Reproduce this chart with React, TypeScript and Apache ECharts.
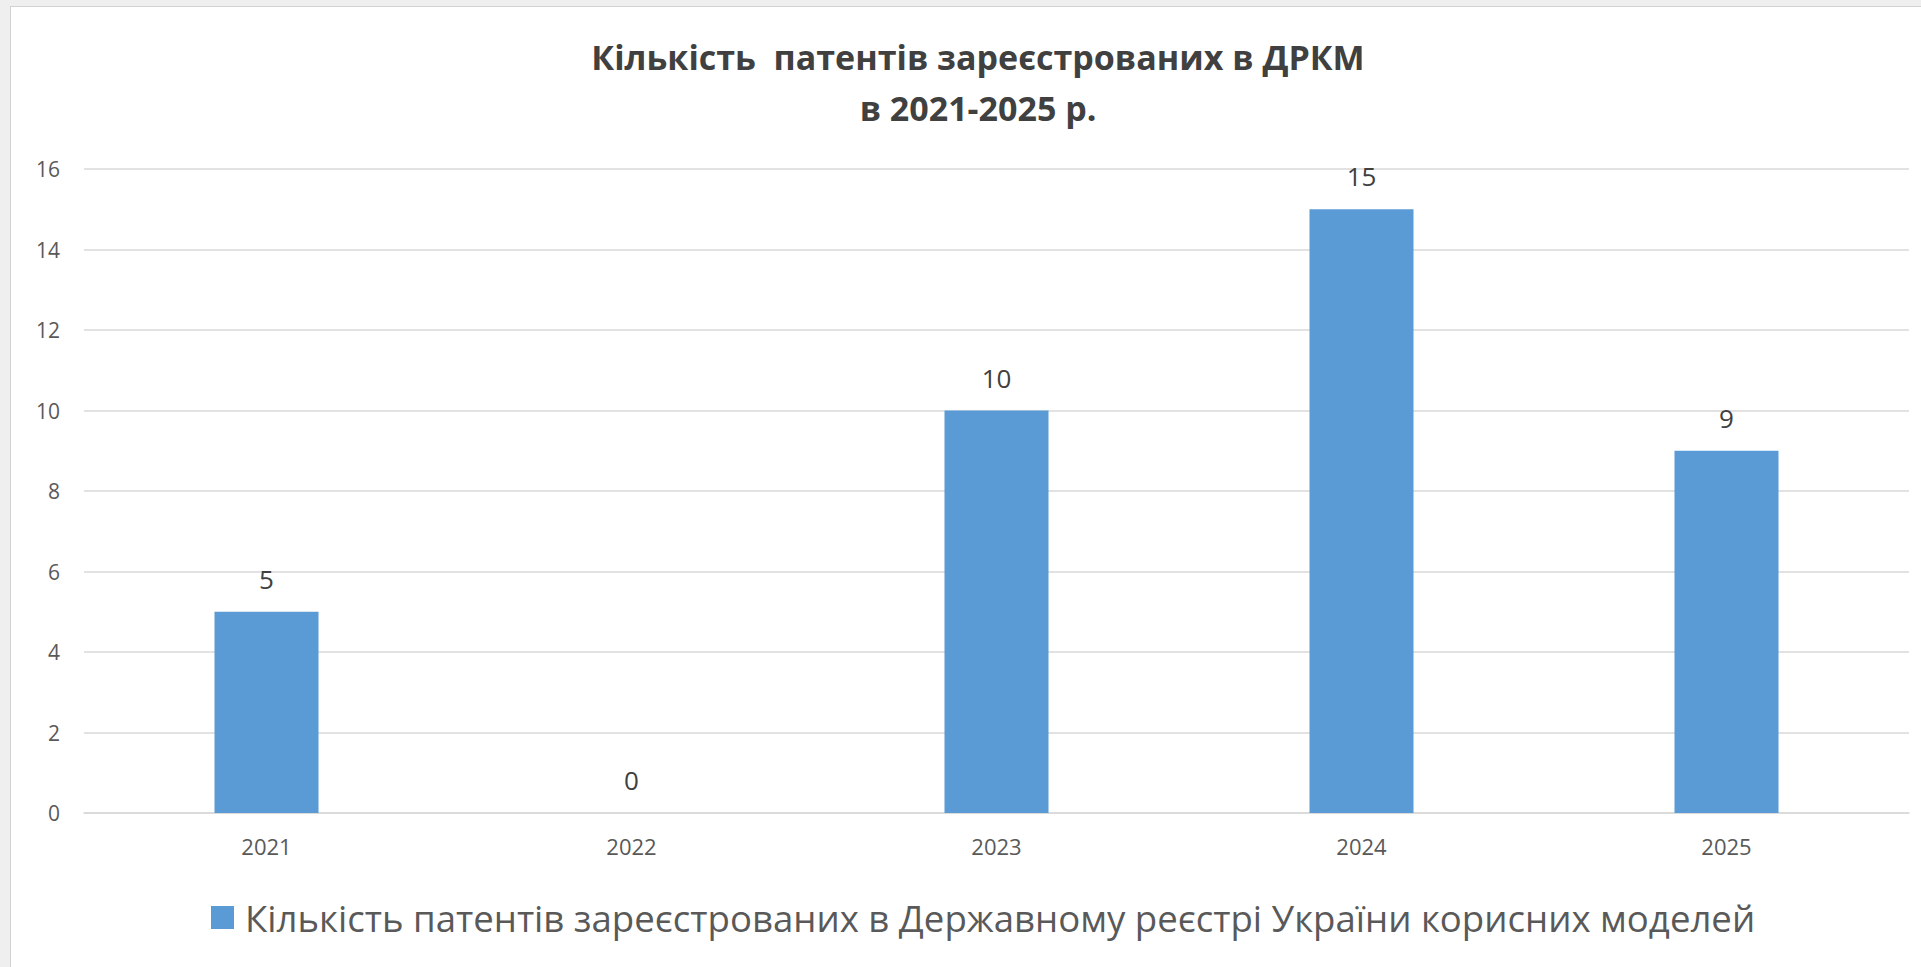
import React, { useEffect, useRef } from "react";
import * as echarts from "echarts";

// Utility-model patents registered per year
const years: string[] = ["2021", "2022", "2023", "2024", "2025"];
const patentCounts: number[] = [5, 0, 10, 15, 9];
const seriesName =
  "Кількість патентів зареєстрованих в Державному реєстрі України корисних моделей";
const titleText = "Кількість  патентів зареєстрованих в ДРКМ\nв 2021-2025 р.";

const BAR_COLOR = "#5B9BD5";
const TEXT_GRAY = "#595959";
const GRID_GRAY = "#D9D9D9";

export default function App() {
  const ref = useRef<HTMLDivElement | null>(null);

  useEffect(() => {
    if (!ref.current) return;
    const chart = echarts.init(ref.current, undefined, { renderer: "svg" });
    chart.setOption({
      animation: false,
      backgroundColor: "#ffffff",
      title: {
        text: titleText,
        left: "center",
        top: 19,
        textStyle: {
          fontFamily: "Open Sans",
          fontWeight: "bold",
          fontSize: 34,
          lineHeight: 51,
          color: "#404040",
        },
      },
      legend: {
        left: 195,
        top: 887,
        itemWidth: 23,
        itemHeight: 23,
        icon: "rect",
        data: [seriesName],
        textStyle: {
          fontFamily: "Open Sans",
          fontSize: 36.6,
          color: TEXT_GRAY,
          padding: [0, 0, 0, 6],
        },
      },
      grid: {
        left: 73,
        right: 36,
        top: 162,
        bottom: 154,
        containLabel: false,
      },
      xAxis: {
        type: "category",
        data: years,
        axisLine: { show: true, lineStyle: { color: GRID_GRAY, width: 1.5 } },
        axisTick: { show: false },
        axisLabel: {
          color: TEXT_GRAY,
          fontFamily: "Open Sans",
          fontSize: 22,
          margin: 22,
        },
      },
      yAxis: {
        type: "value",
        min: 0,
        max: 16,
        interval: 2,
        axisLine: { show: false },
        axisTick: { show: false },
        splitLine: { lineStyle: { color: GRID_GRAY, width: 1.5 } },
        axisLabel: {
          color: TEXT_GRAY,
          fontFamily: "Open Sans",
          fontSize: 21,
          margin: 24,
        },
      },
      series: [
        {
          name: seriesName,
          type: "bar",
          data: patentCounts,
          barWidth: 104,
          itemStyle: { color: BAR_COLOR },
          label: {
            show: true,
            position: "top",
            distance: 20,
            color: "#404040",
            fontFamily: "Open Sans",
            fontSize: 26,
          },
        },
      ],
    });
    return () => chart.dispose();
  }, []);

  return (
    <div
      style={{
        position: "fixed",
        left: 0,
        top: 0,
        width: 1921,
        height: 967,
        background: "#efefef",
        overflow: "hidden",
      }}
    >
      <div
        style={{
          position: "absolute",
          left: 10,
          top: 6,
          width: 1935,
          height: 961,
          borderLeft: "1px solid #d2d2d2",
          borderTop: "1px solid #d2d2d2",
          background: "#ffffff",
        }}
      >
        <div ref={ref} style={{ width: 1934, height: 960 }} />
      </div>
    </div>
  );
}
